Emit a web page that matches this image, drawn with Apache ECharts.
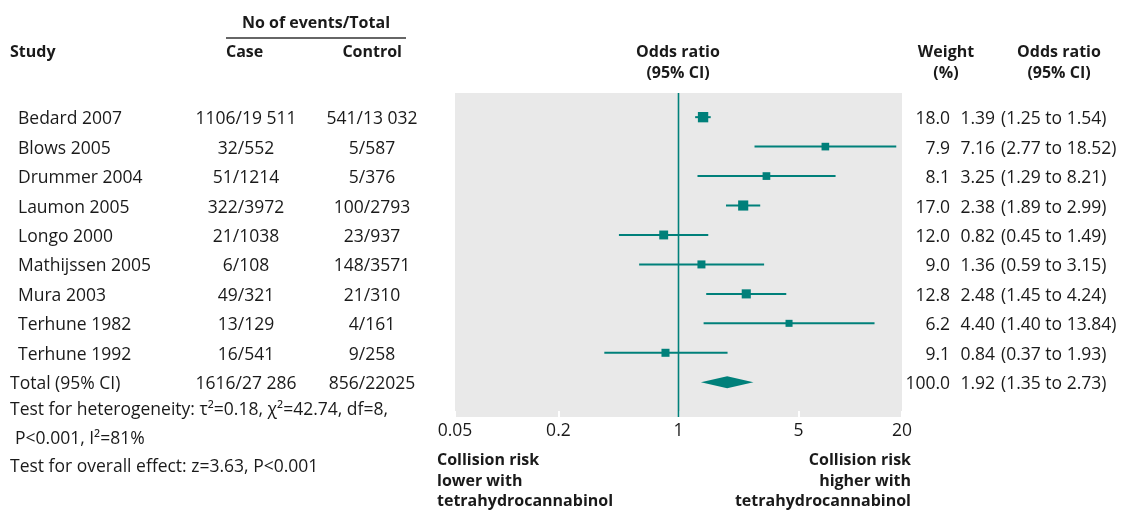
<!DOCTYPE html>
<html><head><meta charset="utf-8">
<script src="https://cdn.jsdelivr.net/npm/echarts@6/dist/echarts.min.js"></script>
<style>html,body{margin:0;padding:0;background:#fff}#c{width:1139px;height:510px}</style>
</head><body><div id="c"></div>
<script>
// ---- data ----
const studies = ['Bedard 2007','Blows 2005','Drummer 2004','Laumon 2005','Longo 2000','Mathijssen 2005','Mura 2003','Terhune 1982','Terhune 1992'];
const caseEvents = ['1106/19 511','32/552','51/1214','322/3972','21/1038','6/108','49/321','13/129','16/541'];
const controlEvents = ['541/13 032','5/587','5/376','100/2793','23/937','148/3571','21/310','4/161','9/258'];
const weights = [18.0, 7.9, 8.1, 17.0, 12.0, 9.0, 12.8, 6.2, 9.1];
const oddsRatio = [1.39, 7.16, 3.25, 2.38, 0.82, 1.36, 2.48, 4.40, 0.84];
const ciLow = [1.25, 2.77, 1.29, 1.89, 0.45, 0.59, 1.45, 1.40, 0.37];
const ciHigh = [1.54, 18.52, 8.21, 2.99, 1.49, 3.15, 4.24, 13.84, 1.93];
const totalLabel = 'Total (95% CI)';
const totalCase = '1616/27 286';
const totalControl = '856/22025';
const totalWeight = 100.0;
const totalOR = 1.92, totalLow = 1.35, totalHigh = 2.73;
const xTicks = [0.05, 0.2, 1, 5, 20];
const refValue = 1;

// ---- layout / style ----
const FONT = 'Open Sans';
const FS = 17.5;      // regular text
const FSB = 16;       // bold headings
const TEAL = '#00807a';
const TXT = '#1a1a1a';
const GL = 455, GT = 93, GW = 447, GH = 324;
const YMIN = 0.18, YMAX = 11.18, TXT_SHIFT = 0.07;

const nRows = studies.length + 1;
const rowVals = Array.from({length: nRows}, (_, i) => i + 1);
const names = studies.concat([totalLabel]);
const cases = caseEvents.concat([totalCase]);
const controls = controlEvents.concat([totalControl]);
const allW = weights.concat([totalWeight]);
const allOR = oddsRatio.concat([totalOR]);
const allLo = ciLow.concat([totalLow]);
const allHi = ciHigh.concat([totalHigh]);
const idx = v => Math.round(v) - 1;

function textAxis(pos, offset, align, fmt, rich) {
  return {
    type: 'value', gridIndex: 0, position: pos, offset: offset,
    min: YMIN - TXT_SHIFT, max: YMAX - TXT_SHIFT, inverse: true,
    axisLine: {show: false}, axisTick: {show: false}, splitLine: {show: false},
    axisLabel: {
      customValues: rowVals, margin: 0, align: align,
      fontFamily: FONT, fontSize: FS, color: TXT,
      formatter: v => fmt(idx(v)), rich: rich
    }
  };
}

const chart = echarts.init(document.getElementById('c'), null, {renderer: 'canvas'});

const studyData = studies.map((_, i) => [oddsRatio[i], ciLow[i], ciHigh[i], i + 1, weights[i]]);
const totalData = [[totalOR, totalLow, totalHigh, nRows]];

function txt(text, x, y, align, bold) {
  return {type: 'text', x: x, y: y, style: {
    text: text, fontFamily: FONT, fontSize: bold ? FSB : FS, fontWeight: bold ? 'bold' : 'normal',
    fill: TXT, align: align, verticalAlign: 'middle'}};
}

chart.setOption({
  animation: false,
  backgroundColor: '#ffffff',
  grid: {left: GL, top: GT, width: GW, height: GH, show: true, backgroundColor: '#e9e9e9', borderWidth: 0},
  xAxis: {
    type: 'log', logBase: 10, min: 0.05, max: 20,
    axisLine: {show: false},
    splitLine: {show: false},
    axisTick: {show: true, inside: true, length: 6, customValues: xTicks, lineStyle: {color: '#ffffff', width: 2}},
    axisLabel: {customValues: xTicks, margin: 5, fontFamily: FONT, fontSize: FS, color: TXT,
      formatter: v => String(+(+v).toPrecision(3))}
  },
  yAxis: [
    {type: 'value', min: YMIN, max: YMAX, inverse: true, show: false},
    textAxis('left', GL - 10, 'left', i => i < studies.length ? '{s|' + names[i] + '}' : '{t|' + names[i] + '}',
      {s: {padding: [0, 0, 0, 8], fontFamily: FONT, fontSize: FS, color: TXT},
       t: {fontFamily: FONT, fontSize: FS, color: TXT}}),
    textAxis('left', GL - 246, 'center', i => cases[i]),
    textAxis('left', GL - 372, 'center', i => controls[i]),
    textAxis('right', 950 - (GL + GW), 'right', i => allW[i].toFixed(1)),
    textAxis('right', 995 - (GL + GW), 'right', i => allOR[i].toFixed(2)),
    textAxis('right', 1001 - (GL + GW), 'left', i => '(' + allLo[i].toFixed(2) + ' to ' + allHi[i].toFixed(2) + ')')
  ],
  series: [
    {
      type: 'custom', name: 'ref', xAxisIndex: 0, yAxisIndex: 0,
      data: [[refValue, 1]], encode: {x: 0, y: 1},
      renderItem: (params, api) => {
        const p = api.coord([api.value(0), 1]);
        const cs = params.coordSys;
        return {type: 'line', shape: {x1: p[0], y1: cs.y, x2: p[0], y2: cs.y + cs.height},
          style: {stroke: TEAL, lineWidth: 1.6}};
      }
    },
    {
      type: 'custom', name: 'studies', xAxisIndex: 0, yAxisIndex: 0,
      data: studyData, encode: {x: [0, 1, 2], y: 3},
      renderItem: (params, api) => {
        const y = api.value(3);
        const pc = api.coord([api.value(0), y]);
        const pl = api.coord([api.value(1), y]);
        const ph = api.coord([api.value(2), y]);
        const s = 2.3 + 1.9 * Math.sqrt(api.value(4));
        return {type: 'group', children: [
          {type: 'line', shape: {x1: pl[0], y1: pl[1], x2: ph[0], y2: ph[1]}, style: {stroke: TEAL, lineWidth: 2}},
          {type: 'rect', shape: {x: pc[0] - s / 2, y: pc[1] - s / 2, width: s, height: s}, style: {fill: TEAL}}
        ]};
      }
    },
    {
      type: 'custom', name: 'total', xAxisIndex: 0, yAxisIndex: 0,
      data: totalData, encode: {x: [0, 1, 2], y: 3},
      renderItem: (params, api) => {
        const y = api.value(3);
        const pc = api.coord([api.value(0), y]);
        const pl = api.coord([api.value(1), y]);
        const ph = api.coord([api.value(2), y]);
        const h = 6;
        return {type: 'polygon', shape: {points: [[pl[0], pc[1]], [pc[0], pc[1] - h], [ph[0], pc[1]], [pc[0], pc[1] + h]]},
          style: {fill: TEAL}};
      }
    }
  ],
  graphic: [
    txt('No of events/Total', 316, 23, 'center', true),
    {type: 'line', shape: {x1: 226, y1: 38, x2: 406, y2: 38}, style: {stroke: '#333', lineWidth: 1.5}},
    txt('Study', 10, 52, 'left', true),
    txt('Case', 226, 52, 'left', true),
    txt('Control', 402, 52, 'right', true),
    txt('Odds ratio', 678, 52, 'center', true),
    txt('(95% CI)', 678, 73, 'center', true),
    txt('Weight', 946, 52, 'center', true),
    txt('(%)', 946, 73, 'center', true),
    txt('Odds ratio', 1059, 52, 'center', true),
    txt('(95% CI)', 1059, 73, 'center', true),
    txt('Test for heterogeneity: \u03c4\u00b2=0.18, \u03c7\u00b2=42.74, df=8,', 10, 410, 'left', false),
    txt('P<0.001, I\u00b2=81%', 15, 439, 'left', false),
    txt('Test for overall effect: z=3.63, P<0.001', 10, 467, 'left', false),
    txt('Collision risk', 437, 460, 'left', true),
    txt('lower with', 437, 481, 'left', true),
    txt('tetrahydrocannabinol', 437, 501, 'left', true),
    txt('Collision risk', 911, 460, 'right', true),
    txt('higher with', 911, 481, 'right', true),
    txt('tetrahydrocannabinol', 911, 501, 'right', true)
  ]
});
</script></body></html>
